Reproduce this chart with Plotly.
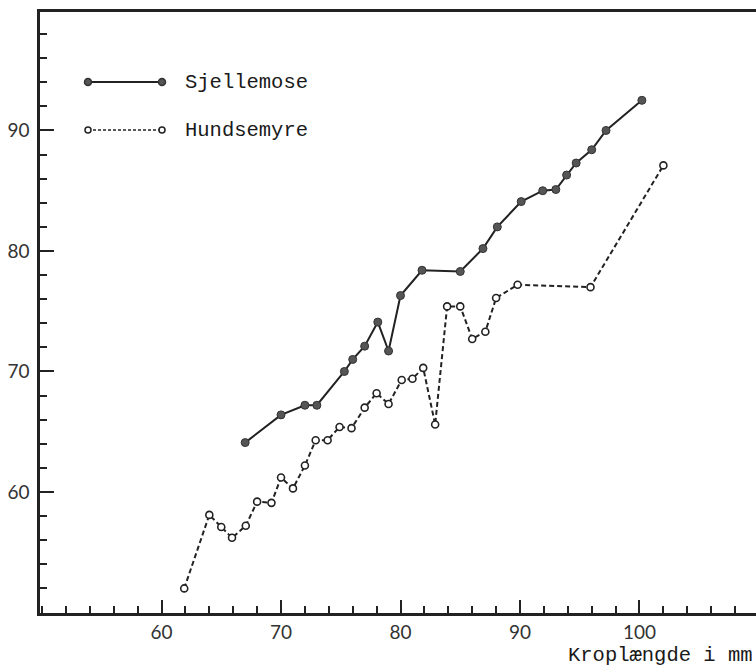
import plotly.graph_objects as go

# Body length (mm) vs. measured value for two localities
sjellemose_x = [67, 70, 72, 73, 75.3, 76, 77, 78.1, 79, 80, 81.8, 85, 86.9, 88.1,
                90.1, 91.9, 93, 93.9, 94.7, 96, 97.2, 100.2]
sjellemose_y = [64.1, 66.4, 67.2, 67.2, 70.0, 71.0, 72.1, 74.1, 71.7, 76.3, 78.4, 78.3, 80.2, 82.0,
                84.1, 85.0, 85.1, 86.3, 87.3, 88.4, 90.0, 92.5]

hundsemyre_x = [61.9, 64, 65, 65.9, 67.05, 68, 69.2, 70, 71, 72, 72.9, 73.9, 74.9, 75.9,
                77, 78, 79, 80.1, 81, 81.9, 82.9, 83.9, 85, 86, 87.1, 88, 89.8, 95.9, 102]
hundsemyre_y = [52.0, 58.1, 57.1, 56.2, 57.2, 59.2, 59.1, 61.2, 60.3, 62.2, 64.3, 64.3, 65.4, 65.3,
                67.0, 68.2, 67.3, 69.3, 69.4, 70.3, 65.6, 75.4, 75.4, 72.7, 73.3, 76.1, 77.2, 77.0, 87.1]

x_ticks = [60, 70, 80, 90, 100]
y_ticks = [60, 70, 80, 90]
series_names = ["Sjellemose", "Hundsemyre"]
x_title = "Kroplængde i mm"

INK = "#222222"
MONO = "Liberation Mono"

fig = go.Figure()
fig.add_trace(go.Scatter(
    x=sjellemose_x, y=sjellemose_y, mode="lines+markers", name=series_names[0],
    line=dict(color=INK, width=2),
    marker=dict(size=8, color="#555555", line=dict(color="#333333", width=1)),
    showlegend=False,
))
fig.add_trace(go.Scatter(
    x=hundsemyre_x, y=hundsemyre_y, mode="lines+markers", name=series_names[1],
    line=dict(color=INK, width=2, dash="5px,3px"),
    marker=dict(size=7, color="white", line=dict(color=INK, width=1.6)),
    showlegend=False,
))

# Hand-drawn style key in the upper-left corner (paper coordinates)
L, T, W, H = 40, 12, 716, 601
def px(x):
    return (x - L) / W
def py(y):
    return (T + H - y) / H

shapes = []
key_rows = [(82, "solid", "#555555", "#333333"), (130, "3px,2px", "white", INK)]
for (yy, dash, fill, edge) in key_rows:
    shapes.append(dict(type="line", xref="paper", yref="paper",
                       x0=px(88), x1=px(162), y0=py(yy), y1=py(yy),
                       line=dict(color=INK, width=2 if dash == "solid" else 1.5, dash=dash)))
    for xx in (88, 162):
        r = 3.5 if dash == "solid" else 3
        shapes.append(dict(type="circle", xref="paper", yref="paper",
                           xsizemode="pixel", ysizemode="pixel",
                           xanchor=px(xx), yanchor=py(yy),
                           x0=-r, x1=r, y0=-r, y1=r,
                           fillcolor=fill, line=dict(color=edge, width=1.5)))

annotations = []
for (yy, *_), name in zip(key_rows, series_names):
    annotations.append(dict(xref="paper", yref="paper", x=px(183), y=py(yy),
                            xanchor="left", yanchor="middle", showarrow=False,
                            text=name, font=dict(family=MONO, size=20.5, color="#1a1a1a")))
annotations.append(dict(xref="paper", yref="paper", x=px(754), y=py(655),
                        xanchor="right", yanchor="middle", showarrow=False,
                        borderpad=0,
                        text=x_title, font=dict(family=MONO, size=20.5, color="#1a1a1a")))

tick_font = dict(family="Lato", size=19, color="#333333")

fig.update_layout(
    width=756, height=668,
    margin=dict(l=L, r=0, t=T, b=668 - T - H),
    paper_bgcolor="white", plot_bgcolor="white",
    shapes=shapes, annotations=annotations,
    xaxis=dict(
        range=[49.83, 109.75], tickmode="array", tickvals=x_ticks,
        ticks="inside", ticklen=13, tickwidth=2, tickcolor=INK,
        minor=dict(dtick=2, tick0=0, ticks="inside", ticklen=7, tickwidth=2, tickcolor=INK),
        showline=True, linecolor=INK, linewidth=2.5, mirror=True,
        showgrid=False, zeroline=False, tickfont=tick_font, ticklabelstandoff=0,
    ),
    yaxis=dict(
        range=[49.96, 99.83], tickmode="array", tickvals=y_ticks,
        ticks="inside", ticklen=14, tickwidth=2, tickcolor=INK,
        minor=dict(dtick=2, tick0=0, ticks="inside", ticklen=7, tickwidth=2, tickcolor=INK),
        showline=True, linecolor=INK, linewidth=2.5,
        showgrid=False, zeroline=False, tickfont=tick_font, ticklabelstandoff=4,
    ),
)

fig.write_html("out.html")
